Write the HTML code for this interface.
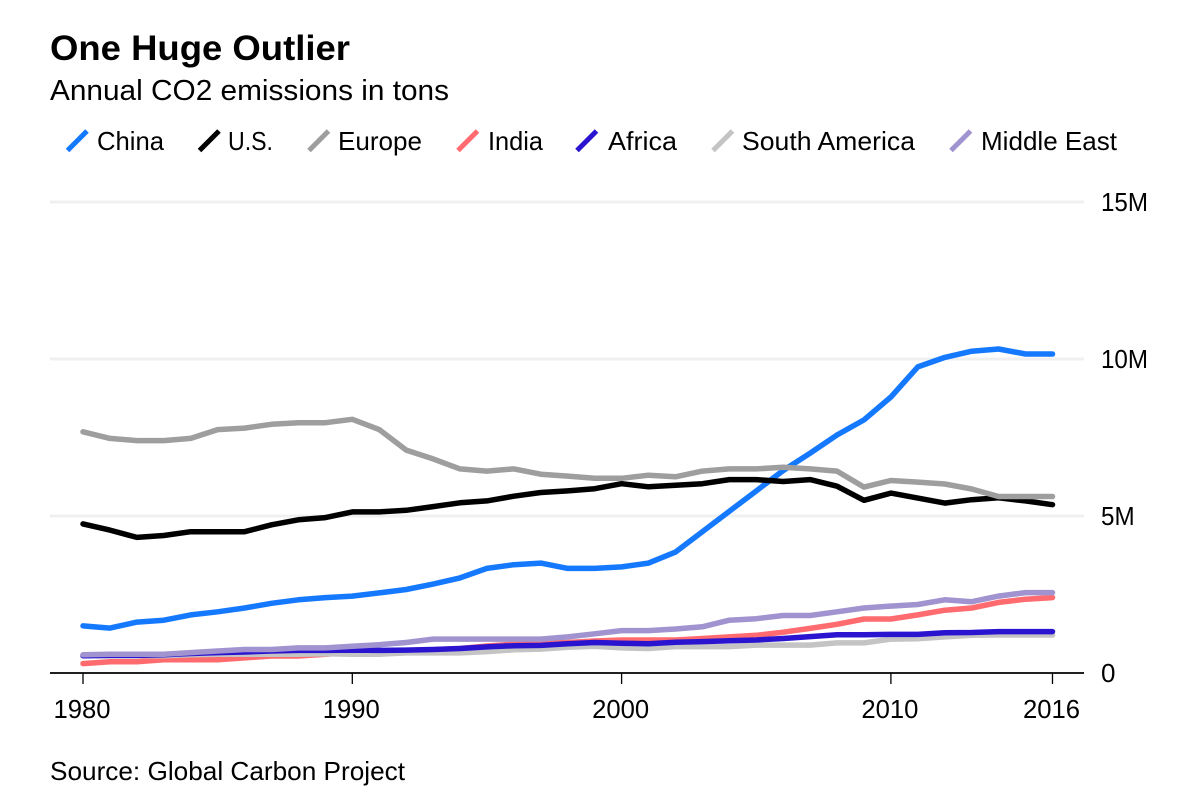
<!DOCTYPE html>
<html>
<head>
<meta charset="utf-8">
<title>One Huge Outlier</title>
<style>
html,body{margin:0;padding:0;background:#fff;width:1186px;height:786px;overflow:hidden}
svg{display:block}
text{font-family:"Liberation Sans",sans-serif;fill:#000}
</style>
</head>
<body>
<svg id="chart" width="1186" height="786" viewBox="0 0 1186 786" xmlns="http://www.w3.org/2000/svg">
  <text x="50" y="60" font-size="35" font-weight="700" textLength="300" lengthAdjust="spacingAndGlyphs">One Huge Outlier</text>
  <text x="50" y="100" font-size="28.5" textLength="399" lengthAdjust="spacingAndGlyphs">Annual CO2 emissions in tons</text>

  <g font-size="26">
    <g><line x1="67.5" y1="150.5" x2="87" y2="131" stroke="#1579ff" stroke-width="5"/><text x="97" y="150" textLength="67" lengthAdjust="spacingAndGlyphs">China</text></g>
    <g><line x1="199.5" y1="150.5" x2="219" y2="131" stroke="#000" stroke-width="5"/><text x="228" y="150" textLength="45" lengthAdjust="spacingAndGlyphs">U.S.</text></g>
    <g><line x1="309" y1="150.5" x2="328.5" y2="131" stroke="#9e9e9e" stroke-width="5"/><text x="338" y="150" textLength="84" lengthAdjust="spacingAndGlyphs">Europe</text></g>
    <g><line x1="458" y1="150.5" x2="477.5" y2="131" stroke="#ff6b6f" stroke-width="5"/><text x="488" y="150" textLength="55" lengthAdjust="spacingAndGlyphs">India</text></g>
    <g><line x1="577" y1="150.5" x2="596.5" y2="131" stroke="#2a14d0" stroke-width="5"/><text x="608" y="150" textLength="69" lengthAdjust="spacingAndGlyphs">Africa</text></g>
    <g><line x1="713" y1="150.5" x2="732.5" y2="131" stroke="#c4c4c4" stroke-width="5"/><text x="742" y="150" textLength="173" lengthAdjust="spacingAndGlyphs">South America</text></g>
    <g><line x1="951" y1="150.5" x2="970.5" y2="131" stroke="#a093cf" stroke-width="5"/><text x="981" y="150" textLength="136" lengthAdjust="spacingAndGlyphs">Middle East</text></g>
  </g>

  <g id="grid"></g>
  <g id="series"></g>
  <g id="axes"></g>

  <text x="50" y="780" font-size="26" textLength="355" lengthAdjust="spacingAndGlyphs">Source: Global Carbon Project</text>
</svg>
<script>
const startYear = 1980;
const xTickYears = [1980, 1990, 2000, 2010, 2016];
const yTickValues = [0, 5, 10, 15];
const yTickLabels = ['0', '5M', '10M', '15M'];

const china = [1.5,1.43,1.62,1.68,1.85,1.95,2.07,2.22,2.33,2.4,2.45,2.55,2.66,2.83,3.03,3.33,3.45,3.5,3.33,3.33,3.38,3.5,3.85,4.5,5.15,5.8,6.45,7.0,7.58,8.06,8.79,9.75,10.05,10.25,10.32,10.16,10.16];
const us = [4.75,4.55,4.32,4.38,4.5,4.5,4.5,4.72,4.88,4.95,5.13,5.13,5.18,5.3,5.42,5.48,5.63,5.75,5.8,5.87,6.03,5.93,5.98,6.03,6.16,6.16,6.1,6.16,5.95,5.5,5.73,5.57,5.41,5.52,5.58,5.48,5.36];
const europe = [7.68,7.47,7.4,7.4,7.47,7.75,7.8,7.92,7.97,7.97,8.08,7.75,7.1,6.82,6.5,6.43,6.5,6.33,6.27,6.2,6.2,6.3,6.25,6.43,6.5,6.5,6.55,6.5,6.43,5.92,6.13,6.08,6.02,5.86,5.62,5.62,5.62];
const india = [0.3,0.36,0.36,0.42,0.42,0.42,0.48,0.54,0.54,0.6,0.66,0.7,0.72,0.74,0.78,0.86,0.92,0.97,0.97,1.02,1.05,1.05,1.05,1.1,1.15,1.2,1.3,1.42,1.55,1.72,1.72,1.85,2.0,2.07,2.25,2.35,2.4];
const africa = [0.55,0.56,0.56,0.58,0.62,0.65,0.67,0.7,0.72,0.72,0.73,0.72,0.73,0.75,0.78,0.83,0.87,0.88,0.93,0.97,0.95,0.93,0.98,1.0,1.03,1.05,1.1,1.16,1.22,1.22,1.23,1.23,1.28,1.29,1.32,1.32,1.32];
const southAmerica = [0.55,0.55,0.55,0.55,0.58,0.6,0.6,0.6,0.6,0.61,0.6,0.6,0.64,0.64,0.64,0.68,0.74,0.76,0.82,0.85,0.8,0.78,0.84,0.84,0.84,0.89,0.89,0.89,0.96,0.96,1.08,1.09,1.15,1.2,1.21,1.21,1.21];
const middleEast = [0.58,0.6,0.6,0.6,0.65,0.7,0.75,0.75,0.8,0.8,0.85,0.9,0.97,1.08,1.08,1.08,1.08,1.08,1.15,1.25,1.35,1.35,1.4,1.47,1.68,1.73,1.83,1.83,1.95,2.07,2.13,2.18,2.33,2.27,2.45,2.56,2.56];

const NS = 'http://www.w3.org/2000/svg';
function xScale(year) { return 83 + (year - 1980) * 26.93; }
function yScale(v) { return 673 - v * 31.4; }

function make(tag, attrs, parent) {
  const el = document.createElementNS(NS, tag);
  for (const k in attrs) el.setAttribute(k, attrs[k]);
  parent.appendChild(el);
  return el;
}

const gridG = document.getElementById('grid');
const axesG = document.getElementById('axes');
const seriesG = document.getElementById('series');

yTickValues.forEach(function (v, i) {
  if (v !== 0) {
    const g = make('line', {x1: 50, x2: 1084, y1: yScale(v), y2: yScale(v), stroke: '#f0f0f0', 'stroke-width': 3}, gridG);
    
    
  }
  const t = make('text', {x: 1101, y: yScale(v) + 9, 'font-size': 26}, axesG);
  t.textContent = yTickLabels[i];
  
  
  if (v !== 0) {
    t.setAttribute('textLength', (t.getComputedTextLength() * 0.93).toFixed(1));
    t.setAttribute('lengthAdjust', 'spacingAndGlyphs');
  }
});

const baseline = make('line', {x1: 50, x2: 1084, y1: 673, y2: 673, stroke: '#000', 'stroke-width': 1.8}, axesG);



xTickYears.forEach(function (yr) {
  const tick = make('line', {x1: xScale(yr), x2: xScale(yr), y1: 673, y2: 684, stroke: '#000', 'stroke-width': 1.3}, axesG);
  
  
  const t = make('text', {x: xScale(yr) - 1, y: 718, 'font-size': 26, 'text-anchor': 'middle', textLength: 57, lengthAdjust: 'spacingAndGlyphs'}, axesG);
  t.textContent = String(yr);
  
  
});

function drawSeries(values, color, name) {
  const pts = values.map(function (v, i) {
    return xScale(startYear + i).toFixed(1) + ',' + yScale(v).toFixed(1);
  }).join(' ');
  const line = make('polyline', {points: pts, fill: 'none', stroke: color, 'stroke-width': 5.5, 'stroke-linejoin': 'round', 'stroke-linecap': 'round'}, seriesG);
  
  
}

drawSeries(china, '#1579ff', 'line-china');
drawSeries(us, '#000000', 'line-us');
drawSeries(europe, '#9e9e9e', 'line-europe');
drawSeries(india, '#ff6b6f', 'line-india');
drawSeries(southAmerica, '#c4c4c4', 'line-south-america');
drawSeries(africa, '#2a14d0', 'line-africa');
drawSeries(middleEast, '#a093cf', 'line-middle-east');
</script>
</body>
</html>
